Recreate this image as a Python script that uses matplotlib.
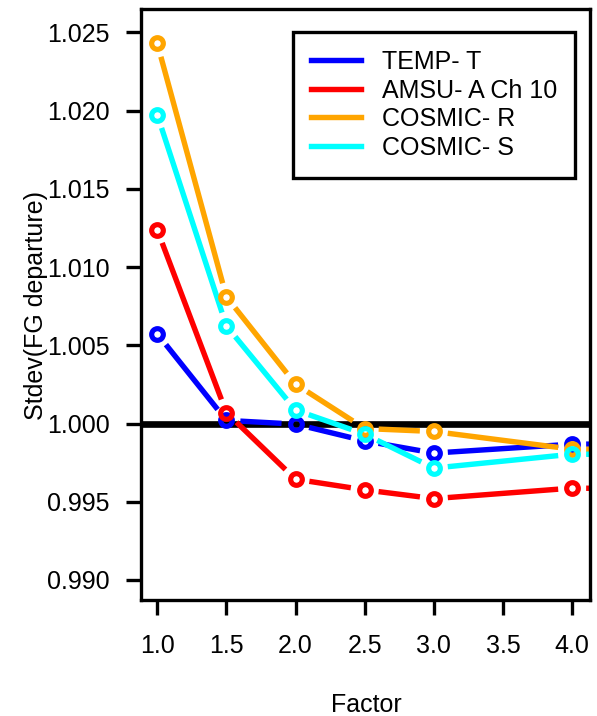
import numpy as np
import matplotlib
matplotlib.use("Agg")
import matplotlib.pyplot as plt
from matplotlib.lines import Line2D

plt.rcParams["font.family"] = ["Liberation Sans", "DejaVu Sans"]

# values
factor = [1.0, 1.5, 2.0, 2.5, 3.0, 4.0, 5.0]
temp_t = [1.00574, 1.0002, 0.99996, 0.99889, 0.99811, 0.99868, 0.99870]
amsu_a = [1.01238, 1.0007, 0.99644, 0.99576, 0.99520, 0.99587, 0.99580]
cosmic_r = [1.0243, 1.0081, 1.00252, 0.99968, 0.99949, 0.99836, 0.99830]
cosmic_s = [1.01974, 1.00624, 1.00086, 0.99932, 0.99715, 0.99804, 0.99800]

series = [
    ("TEMP- T", temp_t, "#0000ff"),
    ("AMSU- A Ch 10", amsu_a, "#ff0000"),
    ("COSMIC- R", cosmic_r, "#ffa500"),
    ("COSMIC- S", cosmic_s, "#00ffff"),
]
x_ticks = [1.0, 1.5, 2.0, 2.5, 3.0, 3.5, 4.0]
y_ticks = [0.990, 0.995, 1.000, 1.005, 1.010, 1.015, 1.020, 1.025]

DPI = 100
FS = 18
fig = plt.figure(figsize=(5.97, 7.16), dpi=DPI)
ax = fig.add_axes([0.236, 0.162, 0.752, 0.8254])
ax.set_xlim(0.882, 4.128)
ax.set_ylim(0.98872, 1.02649)

ax.axhline(1.0, color="black", lw=4.8, zorder=1)


def gapped(ax, xs, ys, color, gap_px=14):
    # R type="b": line segments stop short of the points
    pts = ax.transData.transform(np.column_stack([xs, ys]))
    inv = ax.transData.inverted()
    for p0, p1 in zip(pts[:-1], pts[1:]):
        d = p1 - p0
        n = np.hypot(*d)
        if n <= 2 * gap_px:
            continue
        a = p0 + d / n * gap_px
        b = p1 - d / n * gap_px
        seg = inv.transform(np.array([a, b]))
        ax.plot(seg[:, 0], seg[:, 1], color=color, lw=3.9,
                solid_capstyle="butt", zorder=2)


for label, vals, color in series:
    gapped(ax, factor, vals, color)
    ax.plot(factor, vals, ls="none", marker="o", ms=8.4, mew=3.7,
            mfc="none", mec=color, zorder=3)

ax.set_xticks(x_ticks)
ax.set_xticklabels([f"{v:.1f}" for v in x_ticks])
ax.set_yticks(y_ticks)
ax.set_yticklabels([f"{v:.3f}" for v in y_ticks])
ax.tick_params(axis="both", labelsize=FS, width=2.4, length=10.5)
ax.tick_params(axis="y", pad=12)
ax.tick_params(axis="x", pad=14)
for sp in ax.spines.values():
    sp.set_linewidth(2.4)

fig.text(36 / 597, 1 - 305 / 716, "Stdev(FG departure)", rotation=90,
         ha="center", va="center", fontsize=FS)
fig.text(366 / 597, 1 - 705 / 716, "Factor", ha="center", va="center",
         fontsize=FS)

handles = [Line2D([], [], color=c, lw=3.9) for _, _, c in series]
leg = ax.legend(handles, [s[0] for s in series], loc="upper right",
                bbox_to_anchor=(0.967, 0.961), borderaxespad=0,
                fontsize=FS, fancybox=False, framealpha=1,
                handlelength=2.0, handletextpad=0.85, labelspacing=0.18,
                borderpad=0.72)
leg.get_frame().set_edgecolor("black")
leg.get_frame().set_linewidth(2.4)

fig.savefig("out.png", dpi=DPI)
